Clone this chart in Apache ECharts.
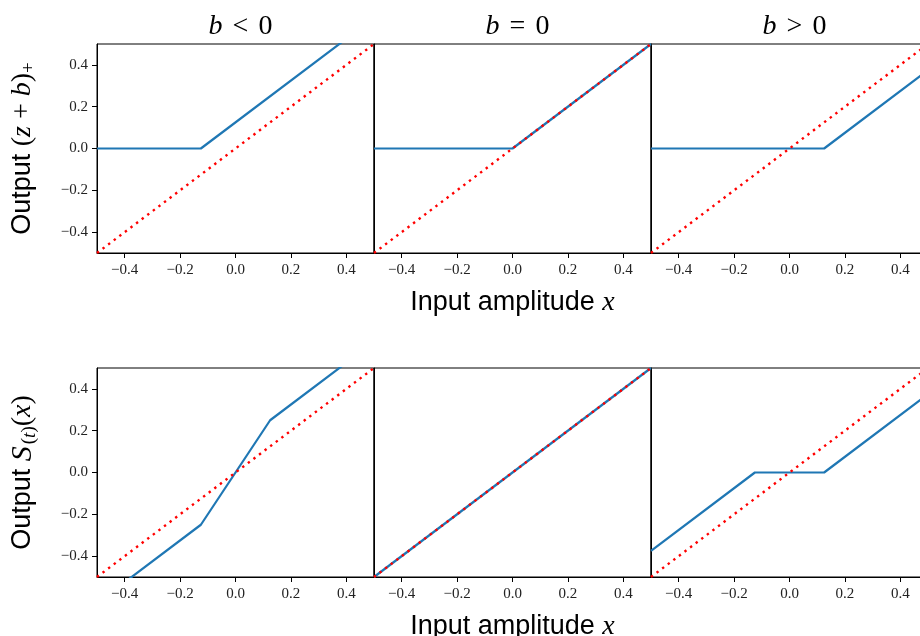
<!DOCTYPE html>
<html>
<head>
<meta charset="utf-8">
<script src="https://cdn.jsdelivr.net/npm/echarts@6/dist/echarts.min.js"></script>
<style>html,body{margin:0;padding:0;background:#fff;overflow:hidden;}#c{width:932px;height:636px;}</style>
</head>
<body>
<div id="c"></div>
<script>
// ---- data ----
const xTickVals = [-0.4, -0.2, 0.0, 0.2, 0.4];
const yTickVals = [-0.4, -0.2, 0.0, 0.2, 0.4];
const colTitles = [['b', '<', '0'], ['b', '=', '0'], ['b', '>', '0']];
// top row: (z+b)_+
const reluNeg = [[-0.5, 0], [-0.125, 0], [0.5, 0.625]];
const reluZero = [[-0.5, 0], [0, 0], [0.5, 0.5]];
const reluPos = [[-0.5, 0], [0.125, 0], [0.5, 0.375]];
// bottom row: S_(t)(x)
const shrinkNeg = [[-0.5, -0.625], [-0.125, -0.25], [0.125, 0.25], [0.5, 0.625]];
const shrinkZero = [[-0.5, -0.5], [0.5, 0.5]];
const shrinkPos = [[-0.5, -0.375], [-0.125, 0], [0.125, 0], [0.5, 0.375]];
// reference identity
const identity = [[-0.5, -0.5], [0.5, 0.5]];

const rows = [[reluNeg, reluZero, reluPos], [shrinkNeg, shrinkZero, shrinkPos]];

// ---- layout ----
const lefts = [97, 374, 651];
const panelW = 277;
const tops = [44, 368];
const panelH = 209;

const tickFont = 'Liberation Serif';
const sansFont = 'Liberation Sans';
const mathFont = 'Liberation Serif';

function fmt(v) { return (Math.abs(v) < 1e-9 ? 0 : v).toFixed(1).replace('-', '\u2212'); }

const grids = [], xAxes = [], yAxes = [], series = [], titles = [];
const base = { color: '#000', fontWeight: 'normal', lineHeight: 32 };
const rich = {
  s: Object.assign({ fontFamily: sansFont, fontSize: 27 }, base),
  m: Object.assign({ fontFamily: mathFont, fontStyle: 'italic', fontSize: 28 }, base),
  S: Object.assign({ fontFamily: mathFont, fontStyle: 'italic', fontSize: 30, padding: [0, 2, 0, 0] }, base),
  u: Object.assign({ fontFamily: mathFont, fontSize: 28 }, base),
  rel: Object.assign({ fontFamily: mathFont, fontSize: 28, padding: [0, 3, 0, 3] }, base),
  sub: Object.assign({ fontFamily: mathFont, fontSize: 19, verticalAlign: 'bottom' }, base),
  subm: Object.assign({ fontFamily: mathFont, fontStyle: 'italic', fontSize: 19, verticalAlign: 'bottom' }, base)
};

colTitles.forEach((t, c) => {
  titles.push({
    text: '{m|' + t[0] + '}{u| }{rel|' + t[1] + '}{u| }{u|' + t[2] + '}',
    left: lefts[c] + panelW / 2,
    top: 6,
    textAlign: 'center',
    textStyle: { fontWeight: 'normal', rich: rich }
  });
});

let idx = 0;
for (let r = 0; r < 2; r++) {
  for (let c = 0; c < 3; c++) {
    grids.push({ left: lefts[c], top: tops[r], width: panelW, height: panelH,
      show: true, borderColor: '#000', borderWidth: 1, backgroundColor: 'transparent',
      containLabel: false, outerBoundsMode: 'none' });
    const xa = {
      type: 'value', gridIndex: idx, min: -0.5, max: 0.5,
      splitLine: { show: false },
      axisLine: { show: true, onZero: false, lineStyle: { color: '#000', width: 1 } },
      axisTick: { show: true, inside: false, length: 5, customValues: xTickVals, lineStyle: { color: '#000', width: 1 } },
      axisLabel: { show: true, margin: 10, customValues: xTickVals, formatter: fmt,
        fontFamily: tickFont, fontSize: 15, color: '#222' }
    };
    if (c === 1) {
      xa.name = '{s|Input amplitude }{m|x}';
      xa.nameLocation = 'middle';
      xa.nameGap = 34;
      xa.nameTextStyle = { rich: rich };
    }
    xAxes.push(xa);
    const ya = {
      type: 'value', gridIndex: idx, min: -0.5, max: 0.5,
      splitLine: { show: false },
      axisLine: { show: true, onZero: false, lineStyle: { color: '#000', width: 1 } },
      axisTick: { show: c === 0, inside: false, length: 5, customValues: yTickVals, lineStyle: { color: '#000', width: 1 } },
      axisLabel: { show: c === 0, margin: 9, customValues: yTickVals, formatter: fmt,
        fontFamily: tickFont, fontSize: 15, color: '#222' }
    };
    if (c === 0) {
      ya.name = r === 0
        ? '{s|Output }{u|(}{m|z}{u| + }{m|b}{u|)}{sub|+}'
        : '{s|Output }{S|S}{sub|(}{subm|t}{sub|)}{u|(}{m|x}{u|)}';
      ya.nameLocation = 'middle';
      ya.nameRotate = 90;
      ya.nameGap = 58;
      ya.nameTextStyle = { rich: rich };
    }
    yAxes.push(ya);
    series.push({
      type: 'line', xAxisIndex: idx, yAxisIndex: idx, data: rows[r][c],
      showSymbol: false, symbol: 'none', clip: true, animation: false,
      lineStyle: { color: '#1f77b4', width: 2.2 }, z: 2
    });
    series.push({
      type: 'line', xAxisIndex: idx, yAxisIndex: idx, data: identity,
      showSymbol: false, symbol: 'none', clip: true, animation: false,
      lineStyle: { color: '#ff0000', width: 2.4, type: [2.4, 4.6], cap: 'butt' }, z: 3
    });
    idx++;
  }
}

const chart = echarts.init(document.getElementById('c'), null, { renderer: 'canvas' });
chart.setOption({
  animation: false,
  backgroundColor: '#fff',
  title: titles,
  grid: grids,
  xAxis: xAxes,
  yAxis: yAxes,
  series: series
});
</script>
</body>
</html>
